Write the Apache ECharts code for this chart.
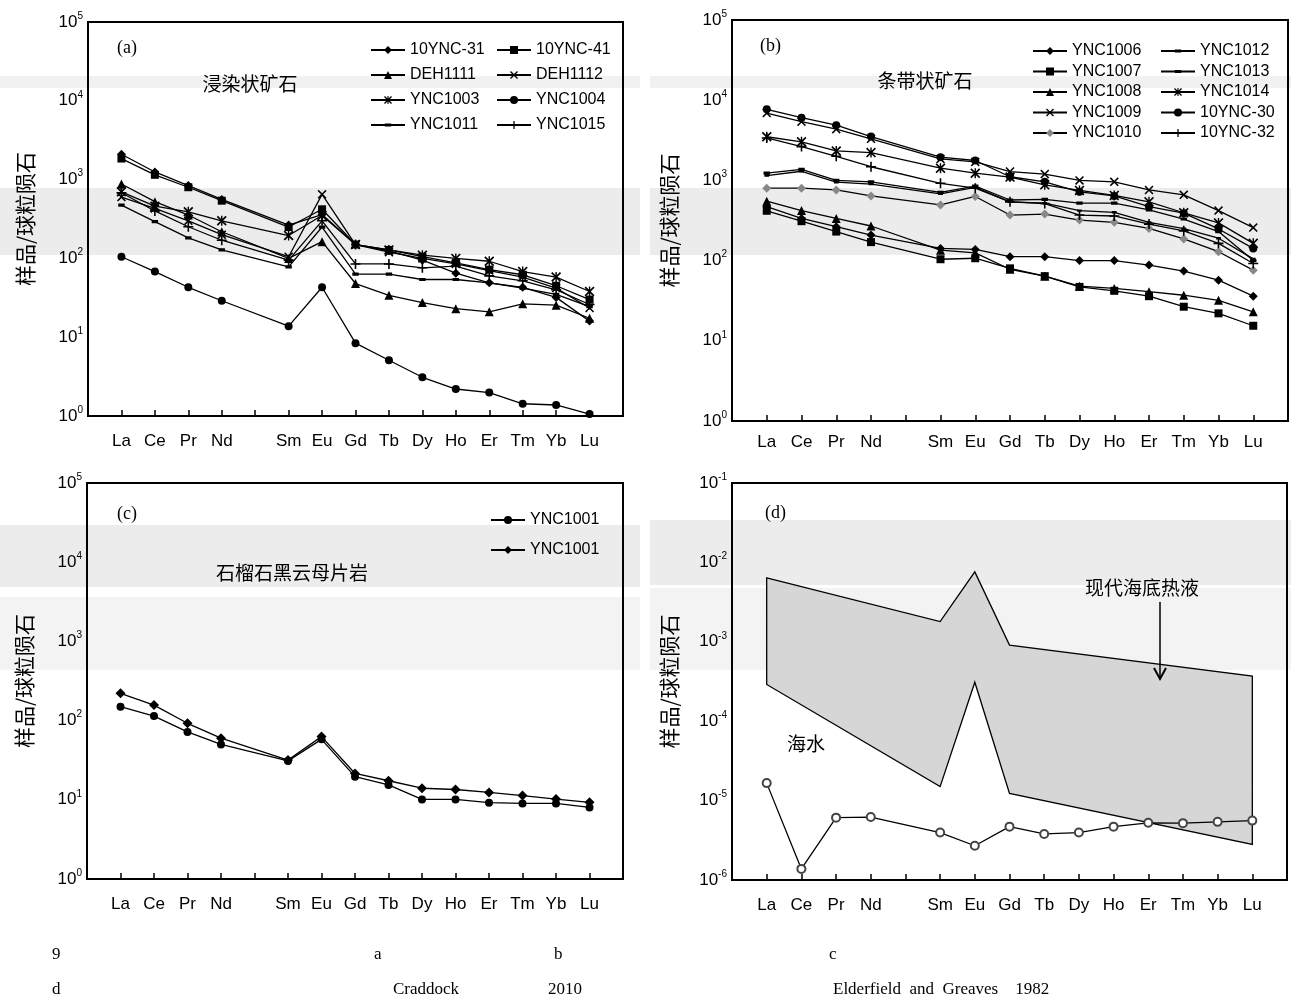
<!DOCTYPE html>
<html><head><meta charset="utf-8">
<script src="https://cdn.jsdelivr.net/npm/echarts@6/dist/echarts.min.js"></script>
<style>html,body{margin:0;padding:0;background:#fff}#c{width:1291px;height:1001px}</style>
</head><body><div id="c"></div>
<script>
// ---- categories ----
const elements = ['La','Ce','Pr','Nd','Pm','Sm','Eu','Gd','Tb','Dy','Ho','Er','Tm','Yb','Lu'];

// ---- panel (a) 浸染状矿石 ----
const a_10YNC31 = [2100,1250,840,560,null,265,360,150,125,95,65,49,43,32,16];
const a_10YNC41 = [1850,1150,800,540,null,250,420,150,128,105,88,72,62,45,30];
const a_DEH1111 = [880,525,355,218,null,100,163,48,34,27.5,23,21,26.5,25.5,17.4];
const a_DEH1112 = [600,430,300,200,null,105,650,150,120,100,85,70,58,42,23.5];
const a_YNC1003 = [700,460,390,300,null,195,350,150,128,110,100,92,68,58,38];
const a_YNC1004 = [105,68,43,29,null,13.8,43,8.4,5.1,3.1,2.2,1.98,1.43,1.38,1.06];
const a_YNC1011 = [475,293,182,128,null,78,250,63,63,54,54,49,42,35,24.5];
const a_YNC1015 = [680,400,252,170,null,95,300,85,85,76,80,60,52,40,26];

// ---- panel (b) 条带状矿石 ----
const b_YNC1006 = [470,336,265,208,null,142,138,112,112,100,100,88,74,57,36];
const b_YNC1007 = [418,310,230,170,null,104,107,80,64,47,42,36,26.6,22,15.4];
const b_YNC1008 = [550,420,336,270,null,135,125,78,64,48,45,41,37,32,23];
const b_YNC1009 = [6900,5400,4350,3300,null,1850,1700,1290,1200,1000,960,760,660,420,258];
const b_YNC1010 = [800,800,760,640,null,495,630,370,380,320,300,252,186,129,76];
const b_YNC1012 = [1230,1370,1000,960,null,710,850,570,580,520,520,430,330,230,100];
const b_YNC1013 = [1150,1300,950,900,null,680,820,540,520,420,400,300,250,190,105];
const b_YNC1014 = [3500,3030,2330,2220,null,1420,1230,1100,880,750,650,540,395,295,164];
const b_10YNC30 = [7700,6050,4880,3520,null,1950,1770,1110,960,720,640,470,390,248,142];
const b_10YNC32 = [3380,2640,2000,1480,null,920,800,540,515,370,360,285,235,164,92];

// ---- panel (c) 石榴石黑云母片岩 ----
const c_YNC1001_circle  = [150,114,72,50,null,31,58,19.6,15.4,10.1,10.1,9.2,9.0,9.0,8.0];
const c_YNC1001_diamond = [221,157,92.5,60,null,31.8,62.8,21.5,17.4,14,13.5,12.4,11.3,10.2,9.3];

// ---- panel (d) 海水 / 现代海底热液 ----
const d_seawater   = [1.66e-5,1.38e-6,6.1e-6,6.2e-6,null,3.96e-6,2.7e-6,4.7e-6,3.8e-6,3.96e-6,4.7e-6,5.25e-6,5.2e-6,5.4e-6,5.6e-6];
const d_hydroUpper = [6.4e-3,null,null,null,null,1.8e-3,7.6e-3,9.1e-4,null,null,null,null,null,null,3.7e-4];
const d_hydroLower = [2.9e-4,null,null,null,null,1.5e-5,3.1e-4,1.23e-5,null,null,null,null,null,null,2.8e-6];

// ---- tick labels ----
const yNameText = '样品/球粒陨石';

// ---------------------------------------------------------------
const axisCats = [''].concat(elements, ['']);
const pad = arr => [null].concat(arr, [null]);

const SANS = 'Liberation Sans, Arial, sans-serif';
const SERIF = 'Liberation Serif, Times New Roman, serif';
const CJK = 'Noto Sans CJK SC, sans-serif';

const grids = [
  {left:88, top:22, width:535, height:394},
  {left:732, top:20, width:556, height:401},
  {left:87, top:483, width:536, height:396},
  {left:732, top:483, width:555, height:397}
];
const xMargins = [17, 13, 17, 17];

function xAx(i){
  return {type:'category', gridIndex:i, data:axisCats, boundaryGap:false,
    axisLine:{lineStyle:{color:'#000', width:2}},
    axisTick:{inside:true, length:6, interval:0, lineStyle:{color:'#000', width:1.5}},
    axisLabel:{interval:0, margin:xMargins[i], color:'#000', fontSize:17, fontFamily:SANS,
      formatter: v => (v === 'Pm' ? '' : v)},
    splitLine:{show:false}};
}
function yAx(i, min, max){
  return {type:'log', logBase:10, gridIndex:i, min:min, max:max, splitNumber:5,
    name:yNameText, nameLocation:'middle', nameRotate:90, nameGap:52,
    nameTextStyle:{fontFamily:CJK, fontSize:21, color:'#000'},
    axisLine:{show:true, lineStyle:{color:'#000', width:2}},
    axisTick:{inside:true, length:6, lineStyle:{color:'#000', width:1.5}},
    minorTick:{show:false},
    axisLabel:{margin:5, color:'#000',
      formatter: v => '{b|10}{s|' + Math.round(Math.log10(v)) + '}',
      rich:{b:{fontSize:17, fontFamily:SANS, color:'#000', lineHeight:22},
            s:{fontSize:10, fontFamily:SANS, color:'#000', verticalAlign:'top', lineHeight:12}}},
    splitLine:{show:false}};
}

const X = 'path://M0,1.2L1.2,0L5,3.8L8.8,0L10,1.2L6.2,5L10,8.8L8.8,10L5,6.2L1.2,10L0,8.8L3.8,5Z';
const PLUS = 'path://M4.2,0H5.8V4.2H10V5.8H5.8V10H4.2V5.8H0V4.2H4.2Z';
const AST = 'path://M0,1.2L1.2,0L5,3.8L8.8,0L10,1.2L6.2,5L10,8.8L8.8,10L5,6.2L1.2,10L0,8.8L3.8,5Z M4.3,0H5.7V10H4.3Z';
const DASH = 'path://M0,0L0.01,0L0,0Z M10,10L9.99,10L10,10Z M1,3H9V7H1Z';

function ln(name, data, gi, symbol, size, color){
  return {type:'line', name:name, xAxisIndex:gi, yAxisIndex:gi, data:pad(data),
    connectNulls:true, symbol:symbol, symbolSize:size, symbolKeepAspect:true, showAllSymbol:true,
    lineStyle:{color:'#000', width:1.3}, itemStyle:{color:color || '#000'},
    emphasis:{disabled:true}, z:3};
}

const series = [
  ln('10YNC-31', a_10YNC31, 0, 'diamond', 9),
  ln('10YNC-41', a_10YNC41, 0, 'rect', 8),
  ln('DEH1111', a_DEH1111, 0, 'triangle', 9),
  ln('DEH1112', a_DEH1112, 0, X, 9),
  ln('YNC1003', a_YNC1003, 0, AST, 10),
  ln('YNC1004', a_YNC1004, 0, 'circle', 8),
  ln('YNC1011', a_YNC1011, 0, DASH, 8),
  ln('YNC1015', a_YNC1015, 0, PLUS, 10),

  ln('YNC1006', b_YNC1006, 1, 'diamond', 9),
  ln('YNC1007', b_YNC1007, 1, 'rect', 8),
  ln('YNC1008', b_YNC1008, 1, 'triangle', 9),
  ln('YNC1009', b_YNC1009, 1, X, 9),
  ln('YNC1010', b_YNC1010, 1, 'diamond', 9, '#888'),
  ln('YNC1012', b_YNC1012, 1, DASH, 8),
  ln('YNC1013', b_YNC1013, 1, DASH, 6),
  ln('YNC1014', b_YNC1014, 1, AST, 10),
  ln('10YNC-30', b_10YNC30, 1, 'circle', 8),
  ln('10YNC-32', b_10YNC32, 1, PLUS, 10),

  ln('YNC1001', c_YNC1001_circle, 2, 'circle', 8),
  ln('YNC1001 ', c_YNC1001_diamond, 2, 'diamond', 10),

  {type:'custom', xAxisIndex:3, yAxisIndex:3, data:[[1, 1e-3]], z:1, silent:true, clip:true,
    renderItem:(params, api) => {
      const pts = [];
      d_hydroUpper.forEach((v, i) => { if (v != null) pts.push(api.coord([i + 1, v])); });
      for (let i = d_hydroLower.length - 1; i >= 0; i--) {
        const v = d_hydroLower[i];
        if (v != null) pts.push(api.coord([i + 1, v]));
      }
      return {type:'polygon', shape:{points:pts}, style:{fill:'#d6d6d6', stroke:'#000', lineWidth:1.3}};
    }},
  Object.assign(ln('海水', d_seawater, 3, 'emptyCircle', 8), {itemStyle:{color:'#444', borderWidth:1}})
];

const legTxt = {fontFamily:SANS, fontSize:16, color:'#000'};
function leg(data, left, top, gap){
  return {data:data, left:left, top:top, orient:'vertical', itemGap:gap, itemWidth:34, itemHeight:10,
    selectedMode:false, textStyle:legTxt, padding:0};
}

const bands = [
  [0,76,640,12,'#f1f1f1'],[650,76,641,12,'#f1f1f1'],
  [0,188,640,67,'#ececec'],[650,188,641,67,'#ececec'],
  [0,525,640,62,'#ececec'],[0,597,640,73,'#f3f3f3'],
  [650,520,641,65,'#ececec'],[650,588,641,82,'#f3f3f3']
].map(b => ({type:'rect', z:-10, silent:true, shape:{x:b[0], y:b[1], width:b[2], height:b[3]}, style:{fill:b[4]}}));

function txt(x, y, s, font, size, align){
  return {type:'text', x:x, y:y, z:50, silent:true,
    style:{text:s, fontFamily:font, fontSize:size, fill:'#000', textAlign:align || 'left', textVerticalAlign:'middle'}};
}

const graphics = bands.concat([
  txt(117, 48, '(a)', SERIF, 18), txt(760, 46, '(b)', SERIF, 18),
  txt(117, 514, '(c)', SERIF, 18), txt(765, 513, '(d)', SERIF, 18),
  txt(250, 84, '浸染状矿石', CJK, 19, 'center'),
  txt(925, 81, '条带状矿石', CJK, 19, 'center'),
  txt(292, 573, '石榴石黑云母片岩', CJK, 19, 'center'),
  txt(1142, 588, '现代海底热液', CJK, 19, 'center'),
  txt(806, 744, '海水', CJK, 19, 'center'),
  {type:'polyline', z:50, silent:true, shape:{points:[[1160,602],[1160,678]]}, style:{stroke:'#000', lineWidth:1.5}},
  {type:'polyline', z:50, silent:true, shape:{points:[[1154,668],[1160,679],[1166,668]]}, style:{stroke:'#000', lineWidth:2, fill:null}},
  txt(52, 955, '9', SERIF, 17), txt(374, 955, 'a', SERIF, 17), txt(554, 955, 'b', SERIF, 17), txt(829, 955, 'c', SERIF, 17),
  txt(52, 990, 'd', SERIF, 17), txt(393, 990, 'Craddock', SERIF, 17), txt(548, 990, '2010', SERIF, 17),
  txt(833, 990, 'Elderfield  and  Greaves    1982', SERIF, 17)
]);

const option = {
  animation:false,
  backgroundColor:'#fff',
  grid: grids.map(g => Object.assign({show:true, borderColor:'#000', borderWidth:2, backgroundColor:'transparent', containLabel:false}, g)),
  xAxis:[0,1,2,3].map(xAx),
  yAxis:[yAx(0,1,1e5), yAx(1,1,1e5), yAx(2,1,1e5), yAx(3,1e-6,1e-1)],
  legend:[
    leg(['10YNC-31','DEH1111','YNC1003','YNC1011'], 370, 42, 9),
    leg(['10YNC-41','DEH1112','YNC1004','YNC1015'], 496, 42, 9),
    leg(['YNC1006','YNC1007','YNC1008','YNC1009','YNC1010'], 1032, 43, 4.5),
    leg(['YNC1012','YNC1013','YNC1014','10YNC-30','10YNC-32'], 1160, 43, 4.5),
    leg(['YNC1001','YNC1001 '], 490, 512, 14)
  ],
  graphic:graphics,
  series:series
};

const chart = echarts.init(document.getElementById('c'), null, {renderer:'canvas'});
chart.setOption(option);
</script>
</body></html>
